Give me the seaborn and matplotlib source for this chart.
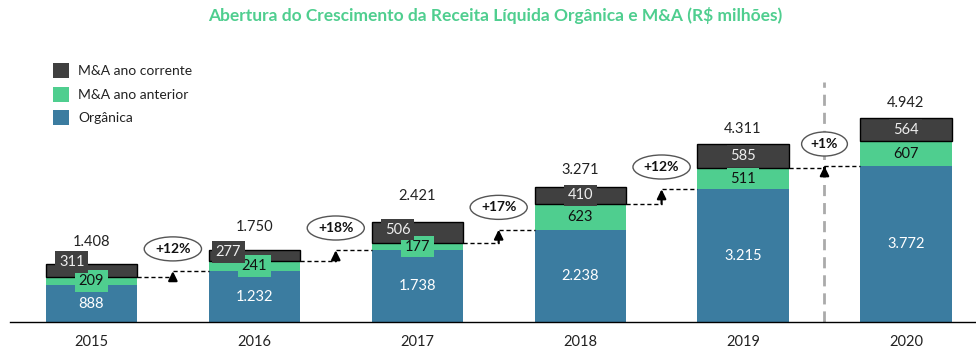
import matplotlib
matplotlib.use("Agg")
import matplotlib.pyplot as plt
from matplotlib.patches import Patch
import numpy as np
import pandas as pd
import seaborn as sns

# Receita líquida (R$ milhões)
years = ["2015", "2016", "2017", "2018", "2019", "2020"]
organica = [888, 1232, 1738, 2238, 3215, 3772]
mna_anterior = [209, 241, 177, 623, 511, 607]
mna_corrente = [311, 277, 506, 410, 585, 564]
totais = [1408, 1750, 2421, 3271, 4311, 4942]
crescimento = ["+12%", "+18%", "+17%", "+12%", "+1%"]

legend_labels = ["M&A ano corrente", "M&A ano anterior", "Orgânica"]
title = "Abertura do Crescimento da Receita Líquida Orgânica e M&A (R$ milhões)"

C_ORG = "#3b7ca0"
C_ANT = "#4fce8f"
C_COR = "#404040"

# nudges for the "ano corrente" labels (x in category units, y in points)
cor_dx = [-0.12, -0.16, -0.12, 0, 0, 0]
cor_dy = [6, 2.5, 2, 0, 0, 0]
total_dy = [16, 16.5, 18.5, 12, 11, 11]


def fmt(v):
    return f"{v:,}".replace(",", ".")


sns.set_theme(style="white")
plt.rcParams["font.family"] = ["Lato", "DejaVu Sans"]

df = pd.DataFrame({
    "ano": years,
    "organica": organica,
    "anterior": mna_anterior,
    "corrente": mna_corrente,
})
df["base_ant"] = df["organica"]
df["base_cor"] = df["organica"] + df["anterior"]

fig = plt.figure(figsize=(9.76, 3.5), dpi=100)
ax = fig.add_axes([0.0102, 0.08, 0.9898, 0.806])

W = 0.56
sns.barplot(data=df, x="ano", y="organica", color=C_ORG, width=W,
            saturation=1, linewidth=0, ax=ax, zorder=2)
sns.barplot(data=df, x="ano", y="anterior", bottom=df["base_ant"].values,
            color=C_ANT, width=W, saturation=1, linewidth=0, ax=ax, zorder=2)
sns.barplot(data=df, x="ano", y="corrente", bottom=df["base_cor"].values,
            color=C_COR, width=W, saturation=1, edgecolor="black",
            linewidth=1, ax=ax, zorder=2)

ax.set_xlim(-0.5, 5.43)
ax.set_ylim(0, 6831)

# segment labels
for i in range(len(years)):
    o, a, c = organica[i], mna_anterior[i], mna_corrente[i]
    ax.text(i, o / 2, fmt(o), ha="center", va="center", fontsize=10.5,
            color="white", zorder=5)
    ax.text(i, o + a / 2, fmt(a), ha="center", va="center", fontsize=10.5,
            color="#111111", zorder=5,
            bbox=dict(boxstyle="square,pad=0.25", fc=C_ANT, ec="none"))
    ax.annotate(fmt(c), (i + cor_dx[i], o + a + c / 2),
                xytext=(0, cor_dy[i]), textcoords="offset points",
                ha="center", va="center", fontsize=10.5, color="#eeeeee",
                zorder=6,
                bbox=dict(boxstyle="square,pad=0.25", fc=C_COR, ec="none"))
    ax.annotate(fmt(totais[i]), (i, totais[i]), xytext=(0, total_dy[i]),
                textcoords="offset points", ha="center", va="center",
                fontsize=10.5, color="#222222")

# organic growth bridges between consecutive years
for i in range(1, len(years)):
    prev_level = organica[i - 1] + mna_anterior[i - 1]
    cur_level = organica[i]
    xb = i - 0.5
    ax.plot([i - 1 + W / 2, xb], [prev_level, prev_level], color="black",
            lw=1, dashes=(3, 2), zorder=3)
    ax.plot([xb, i - W / 2], [cur_level, cur_level], color="black",
            lw=1, dashes=(3, 2), zorder=3)
    ax.annotate("", xy=(xb, cur_level), xytext=(xb, prev_level),
                arrowprops=dict(arrowstyle="-|>,head_length=0.45,head_width=0.22",
                                color="black", lw=1.6, shrinkA=0, shrinkB=0),
                zorder=4)
    ax.annotate(crescimento[i - 1], (xb, cur_level), xytext=(0, 16),
                textcoords="offset points", ha="center", va="center",
                fontsize=10, fontweight="bold", color="#111111", zorder=6,
                bbox=dict(boxstyle="ellipse,pad=0.18", fc="white",
                          ec="#555555", lw=1))

# separator before the last year
ax.axvline(4.5, 0, 0.85, color="#aaaaaa", lw=2, dashes=(4, 2.5), zorder=1)

# axes styling
for side in ["top", "right", "left"]:
    ax.spines[side].set_visible(False)
ax.spines["bottom"].set_color("black")
ax.spines["bottom"].set_linewidth(1)
ax.set_yticks([])
ax.set_xlabel("")
ax.set_ylabel("")
ax.tick_params(axis="x", which="major", length=0, labelsize=10.5,
               colors="#222222", pad=9)
ax.set_xticks(np.arange(0.5, 5.0, 1.0), minor=True)
ax.tick_params(axis="x", which="minor", length=5, width=1, color="#222222",
               direction="out")

handles = [Patch(fc=C_COR, ec="none"), Patch(fc=C_ANT, ec="none"),
           Patch(fc=C_ORG, ec="none")]
fig.legend(handles, legend_labels, loc="upper left",
           bbox_to_anchor=(0.042, 0.855), frameon=False, fontsize=10,
           handlelength=1.1, handleheight=1.3, handletextpad=0.7,
           labelspacing=0.6, labelcolor="#222222")

fig.text(0.507, 0.957, title, ha="center", va="center", fontsize=12.5,
         fontweight="bold", color="#4fce8f")

fig.savefig("out.png", dpi=100)
